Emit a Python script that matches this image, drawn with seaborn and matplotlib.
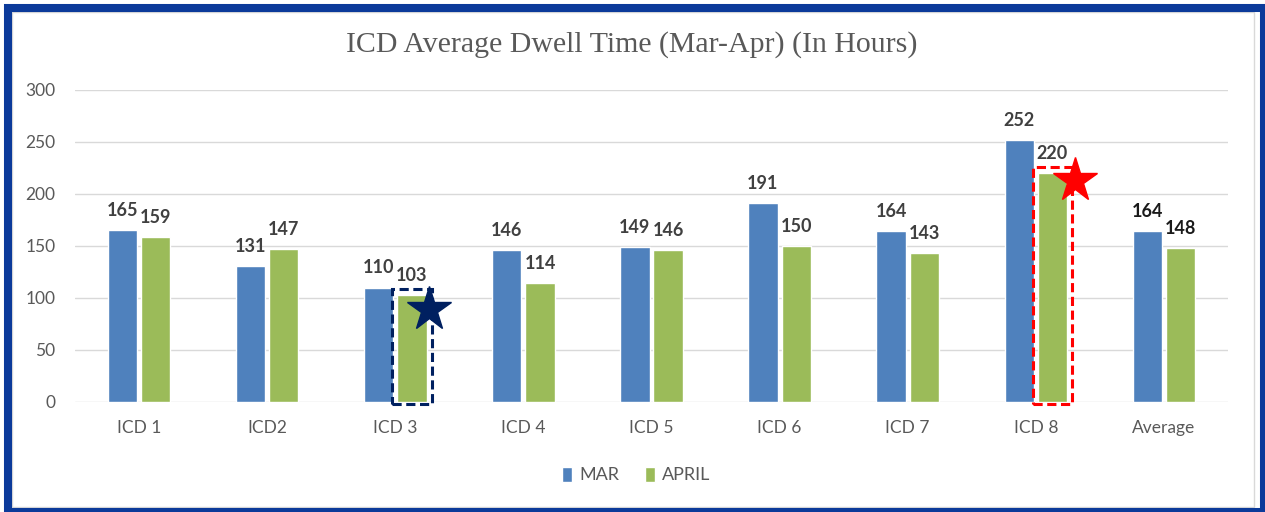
import pandas as pd
import matplotlib.pyplot as plt
import seaborn as sns
from matplotlib.patches import Rectangle

# data
sites = ["ICD 1", "ICD2", "ICD 3", "ICD 4", "ICD 5", "ICD 6", "ICD 7", "ICD 8", "Average"]
mar_hours = [165, 131, 110, 146, 149, 191, 164, 252, 164]
april_hours = [159, 147, 103, 114, 146, 150, 143, 220, 148]
months = ["MAR", "APRIL"]
month_colors = ["#4F81BD", "#9BBB59"]
y_ticks = [0, 50, 100, 150, 200, 250, 300]

df = pd.DataFrame({
    "site": sites * 2,
    "hours": mar_hours + april_hours,
    "month": [months[0]] * len(sites) + [months[1]] * len(sites),
})

sns.set_style("white")
plt.rcParams["font.family"] = ["Lato", "DejaVu Sans"]

W, H = 1265, 512
fig = plt.figure(figsize=(W / 100, H / 100), dpi=100)
ax = fig.add_axes([75 / W, 1 - 402 / H, (1228 - 75) / W, 312 / H])

sns.barplot(data=df, x="site", y="hours", hue="month", palette=month_colors,
            width=0.52, gap=0.12, saturation=1, ax=ax, legend=True)

ax.set_ylim(0, 300)
ax.set_xlim(-0.5, len(sites) - 0.5)
ax.set_yticks(y_ticks)
ax.set_xlabel("")
ax.set_ylabel("")
ax.grid(axis="y", color="#D9D9D9", linewidth=1.0)
ax.set_axisbelow(True)
for s in ax.spines.values():
    s.set_visible(False)
ax.tick_params(axis="both", length=0, labelsize=12.5, labelcolor="#595959")
ax.tick_params(axis="y", pad=14)
ax.tick_params(axis="x", pad=13)

# value labels
for cont in ax.containers:
    texts = ax.bar_label(cont, padding=8, fontsize=13, fontweight="bold", color="#404040")
    texts[-1].set_color("#1A1A1A")

# highlighted April bars: dashed box + star
highlights = [(2, "#002060", 0.016, -14), (7, "#FF0000", 0.06, -7)]
april_bars = ax.containers[1]
for idx, col, dx, dy in highlights:
    p = april_bars[idx]
    x0, w, h = p.get_x(), p.get_width(), p.get_height()
    ax.add_patch(Rectangle((x0 - 0.04, -2), w + 0.08, h + 8, fill=False,
                           edgecolor=col, linewidth=2.2, linestyle=(0, (3, 1.5)),
                           clip_on=False, zorder=5))
    ax.plot(x0 + w + dx, h + dy, marker="*", markersize=33, color=col,
            clip_on=False, zorder=6)

# legend
ax.legend(loc="center", bbox_to_anchor=(0.503, 0.072), bbox_transform=fig.transFigure,
          ncol=2, frameon=False, fontsize=13, handlelength=0.55, handleheight=0.9,
          handletextpad=0.4, columnspacing=1.4, labelcolor="#595959")

fig.text(0.4992, 1 - 52 / H, "ICD Average Dwell Time (Mar-Apr) (In Hours)",
         ha="center", va="baseline", fontsize=21.5, color="#595959",
         family=["Liberation Serif", "DejaVu Serif"])

# chart border and blue frame
fig.patches.append(Rectangle((12 / W, 5 / H), 1242 / W, 495 / H, transform=fig.transFigure,
                             fill=False, edgecolor="#D9D9D9", linewidth=1))
fig.patches.append(Rectangle((8 / W, 0), (1264 - 8) / W, 1 - 8 / H, transform=fig.transFigure,
                             fill=False, edgecolor="#0B3A9A", linewidth=5.8))

fig.savefig("out.png", dpi=100)
